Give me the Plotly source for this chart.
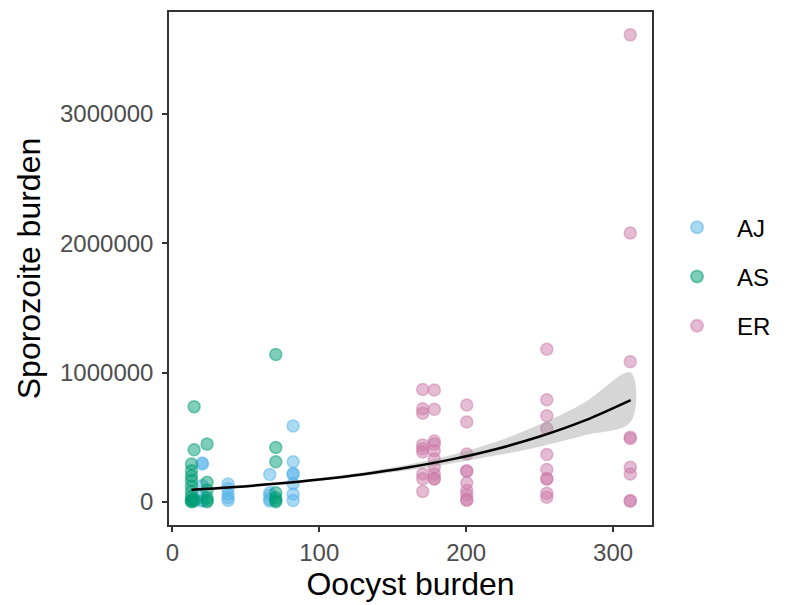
import plotly.graph_objects as go

# Oocyst burden (x) and sporozoite burden (y) per mosquito, by line
aj_x = [20.4] * 6 + [37.9] * 5 + [66.3] * 5 + [82.2] * 7
aj_y = [292000, 300000, 125000, 50000, 10000, 5000,
        138000, 100000, 60000, 30000, 10000,
        210000, 70000, 50000, 20000, 5000,
        587000, 310000, 220000, 210000, 140000, 60000, 10000]

as_x = [13.0] * 10 + [14.8] * 4 + [23.6] * 6 + [70.4] * 7
as_y = [292000, 240000, 200000, 164000, 120000, 80000, 40000, 15000, 5000, 0,
        736000, 402000, 20000, 5000,
        446000, 150000, 90000, 30000, 10000, 0,
        1140000, 420000, 310000, 70000, 30000, 10000, 0]

er_x = [170.4] * 9 + [178.3] * 10 + [200.4] * 10 + [254.9] * 10 + [311.7] * 9
er_y = [869000, 720000, 685000, 440000, 410000, 385000, 215000, 177000, 80000,
        864000, 715000, 470000, 446000, 395000, 330000, 267000, 215000, 180000, 175000,
        749000, 618000, 369000, 240000, 235000, 146000, 87000, 54000, 18000, 10000,
        1180000, 790000, 665000, 567000, 365000, 250000, 180000, 175000, 65000, 35000,
        3613000, 2079000, 1083000, 500000, 490000, 267000, 215000, 10000, 3000]

# Fitted trend with its confidence band
fit_x = [13, 40, 70, 100, 130, 160, 190, 220, 250, 280, 312]
fit_y = [92000, 111900, 138800, 172100, 213300, 264500, 328000, 406700, 504400, 625400, 786700]
fit_lo = [80800, 101300, 128200, 160500, 198900, 244200, 296800, 357100, 425700, 512200, 619000]
fit_hi = [104800, 123700, 150300, 184600, 228800, 286500, 362400, 463200, 597700, 763600, 1000000]

x_ticks = [0, 100, 200, 300]
y_ticks = [0, 1000000, 2000000, 3000000]

groups = [
    ("AJ", aj_x, aj_y, (86, 180, 233)),
    ("AS", as_x, as_y, (0, 158, 115)),
    ("ER", er_x, er_y, (204, 121, 167)),
]

FONT = "Liberation Sans, Arial"

fig = go.Figure()
for name, xs, ys, (r, g, b) in groups:
    col = f"rgba({r},{g},{b},0.5)"
    fig.add_trace(go.Scatter(
        x=xs, y=ys, mode="markers", name=name, legendgroup=name,
        marker=dict(size=12, color=col, line=dict(color=col, width=1.5)),
    ))

fig.add_trace(go.Scatter(
    x=fit_x + fit_x[::-1], y=fit_hi + fit_lo[::-1],
    fill="toself", fillcolor="rgba(153,153,153,0.4)",
    line=dict(width=0, shape="spline"), mode="lines",
    hoverinfo="skip", showlegend=False,
))
fig.add_trace(go.Scatter(
    x=fit_x, y=fit_y, mode="lines", showlegend=False,
    line=dict(color="black", width=2.5, shape="spline"),
))

axis_common = dict(
    showline=True, mirror=True, linecolor="#333333", linewidth=1.5,
    ticks="outside", ticklen=5, tickwidth=1.5, tickcolor="#333333",
    showgrid=False, zeroline=False,
    tickfont=dict(family=FONT, size=24, color="#4d4d4d"),
    title_font=dict(family=FONT, size=32, color="black"),
)

fig.update_layout(
    width=806, height=605,
    margin=dict(l=169, r=154, t=10, b=80),
    paper_bgcolor="white", plot_bgcolor="white",
    xaxis=dict(range=[-2.3, 326.5], tickvals=x_ticks,
               ticktext=[str(v) for v in x_ticks],
               title=dict(text="Oocyst burden", standoff=6), **axis_common),
    yaxis=dict(range=[-180000, 3790000], tickvals=y_ticks,
               ticktext=[str(v) for v in y_ticks], ticklabelstandoff=4,
               title=dict(text="Sporozoite burden", standoff=10), **axis_common),
    legend=dict(x=1.0104, y=0.484, yanchor="middle", xanchor="left",
                font=dict(family=FONT, size=24, color="black"),
                tracegroupgap=15, itemsizing="constant", itemwidth=70),
    showlegend=True,
)

fig.write_html("out.html")
